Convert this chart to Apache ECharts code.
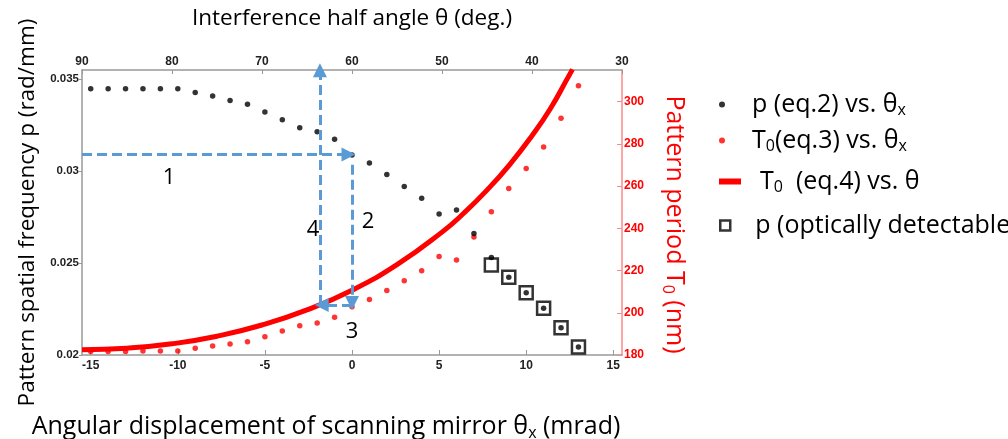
<!DOCTYPE html>
<html><head><meta charset="utf-8">
<script src="https://cdn.jsdelivr.net/npm/echarts@6.0.0/dist/echarts.min.js"></script>
<style>html,body{margin:0;padding:0;background:#fff}#c{width:1008px;height:439px}</style>
</head><body><div id="c"></div>
<script>
// ---- data ----
const thetaX = [-15,-14,-13,-12,-11,-10,-9,-8,-7,-6,-5,-4,-3,-2,-1,0,1,2,3,4,5,6,7,8,9,10,11,12,13];
const pEq2 = [0.03448,0.03448,0.03448,0.03448,0.03448,0.03448,0.03428,0.03409,0.03384,0.03364,0.03321,0.03280,0.03236,0.03214,0.03173,0.03088,0.03044,0.02981,0.02916,0.02852,0.02767,0.02789,0.02661,0.02530,0.02423,0.02338,0.02254,0.02148,0.02043];
const t0Eq3 = [181.6,181.6,181.6,181.9,181.9,181.9,183.2,184.3,185.2,186.3,188.7,191.4,193.8,195.2,197.9,202.9,206.3,210.5,215.2,219.9,226.7,225.0,235.9,247.8,258.9,268.4,278.5,292.2,307.5];
const detectX = [8,9,10,11,12,13];
const pDetect = [0.02489,0.02423,0.02338,0.02254,0.02148,0.02043];
const thetaDeg = [90,85,80,75,70,65,60,55,50,47.5,45,42.5,40,38,36,35.5];
const t0Eq4 = [182.5,183.2,185.3,188.9,194.2,201.4,210.7,222.8,238.2,247.5,258.1,270.1,283.9,296.4,311.5,315.3];
// axis ticks
const bottomTicks = [-15,-10,-5,0,5,10,15];
const leftTicks = [0.02,0.025,0.03,0.035];
const rightTicks = [180,200,220,240,260,280,300];
// annotation arrows (data coordinates: [thetaX, p])
const arrow1 = [[-15.5,0.0309],[-0.2,0.0309]];
const arrow2 = [[0,0.03035],[0,0.02283]];
const arrow3 = [[0,0.02272],[-1.74,0.02272]];
const arrow4 = [[-1.84,0.02272],[-1.84,0.03549]];
const arrowLabels = ['1','2','3','4'];

const S1 = 'p (eq.2) vs. θx', S2 = 'T0 (eq.3) vs. θx', S3 = 'T0 (eq.4) vs. θ', S4 = 'p (optically detectable)';
const FONT = "'Open Sans', sans-serif";
const NUMFONT = "'Liberation Sans', Arial, sans-serif";
const BLUE = '#5B9BD5', RED = '#ff0000';

const legendFmt = {};
legendFmt[S1] = '{g|}{t|p (eq.2) vs. θ}{s|x}';
legendFmt[S2] = '{g|}{t|T}{s|0}{t|(eq.3) vs. θ}{s|x}';
legendFmt[S3] = '{g|}{t|T}{s|0}{t|  (eq.4) vs. θ}';
legendFmt[S4] = '{g|}{t|p (optically detectable)}';
const legendRich = {
  g:{width:14},
  t:{fontSize:25,fontFamily:FONT,color:'#000'},
  s:{fontSize:16,fontFamily:FONT,color:'#000',padding:[12,0,0,0]}
};
function mkLegend(name, top, h, extra){
  return Object.assign({
    left: 714, top: top, orient:'vertical', selectedMode:false,
    itemWidth:22, itemHeight:h, itemGap:0,
    data:[name],
    formatter: n => legendFmt[n],
    textStyle:{rich:legendRich}
  }, extra||{});
}

const chart = echarts.init(document.getElementById('c'));
const arrowLine = (a) => [{coord:a[0]},{coord:a[1]}];
chart.setOption({
  animation:false,
  grid:{left:82,right:386,top:70,bottom:84,outerBoundsMode:'none'},
  legend:[
    mkLegend(S1, 87, 6),
    mkLegend(S2, 123, 6),
    mkLegend(S3, 164, 6, {symbolKeepAspect:false, data:[{name:S3, icon:'rect'}]}),
    mkLegend(S4, 208, 10, {symbolKeepAspect:true, data:[{name:S4, icon:'path://M0,0L10,0L10,10L0,10Z', itemStyle:{color:'#fff',borderColor:'#000',borderWidth:2.5}}]})
  ],
  xAxis:[
    {type:'value', position:'bottom', min:-15.5, max:15.5,
     splitLine:{show:false},
     axisLine:{onZero:false,lineStyle:{color:'#999',width:1.5}},
     axisTick:{inside:true,length:5,customValues:bottomTicks,lineStyle:{color:'#999'}},
     axisLabel:{customValues:bottomTicks,fontFamily:NUMFONT,fontWeight:'bold',fontSize:12,color:'#222',margin:5},
     name:'{t|Angular displacement of scanning mirror θ}{s|x}{t| (mrad)}',
     nameLocation:'middle', nameGap:58,
     nameTextStyle:{padding:[0,52,0,0],rich:{t:{fontSize:25,fontFamily:FONT,color:'#000'},s:{fontSize:16,fontFamily:FONT,color:'#000',padding:[12,0,0,0]}}}
    },
    {type:'value', position:'top', min:30, max:90, interval:10, inverse:true,
     splitLine:{show:false},
     axisLine:{onZero:false,lineStyle:{color:'#999',width:1.5}},
     axisTick:{inside:true,length:4,lineStyle:{color:'#999'}},
     axisLabel:{fontFamily:NUMFONT,fontWeight:'bold',fontSize:12,color:'#222',margin:2},
     name:'Interference half angle θ (deg.)',
     nameLocation:'middle', nameGap:40,
     nameTextStyle:{fontSize:22.5,fontFamily:FONT,color:'#000'}
    }
  ],
  yAxis:[
    {type:'value', position:'left', min:0.02, max:0.0355,
     splitLine:{show:false},
     axisLine:{show:true,onZero:false,lineStyle:{color:'#999',width:1.5}},
     axisTick:{show:true,length:3,customValues:leftTicks,lineStyle:{color:'#999'}},
     axisLabel:{customValues:leftTicks,fontFamily:NUMFONT,fontWeight:'bold',fontSize:11.5,color:'#222',margin:3},
     name:'Pattern spatial frequency p (rad/mm)',
     nameLocation:'middle', nameGap:40,
     nameTextStyle:{fontSize:22.5,fontFamily:FONT,color:'#000'}
    },
    {type:'value', position:'right', min:180, max:315,
     splitLine:{show:false},
     axisLine:{show:true,onZero:false,lineStyle:{color:'#ff8a8a',width:1.5}},
     axisTick:{show:true,inside:true,length:5,customValues:rightTicks,lineStyle:{color:'#ff8a8a'}},
     axisLabel:{customValues:rightTicks,fontFamily:NUMFONT,fontWeight:'bold',fontSize:12,color:RED,margin:2},
     name:'{t|Pattern period T}{s|0}{t| (nm)}',
     nameLocation:'middle', nameGap:38, nameRotate:-90,
     nameTextStyle:{padding:[0,0,0,24],rich:{t:{fontSize:25,fontFamily:FONT,color:RED},s:{fontSize:16,fontFamily:FONT,color:RED,padding:[12,0,0,0]}}}
    }
  ],
  series:[
    {name:S3, type:'line', xAxisIndex:1, yAxisIndex:1, smooth:true, symbol:'none', clip:true,
     lineStyle:{color:RED,width:5}, itemStyle:{color:RED},
     data: thetaDeg.map((t,i)=>[t,t0Eq4[i]])},
    {name:S2, type:'scatter', xAxisIndex:0, yAxisIndex:1, symbol:'circle', symbolSize:5.5,
     itemStyle:{color:RED},
     data: thetaX.map((x,i)=>[x,t0Eq3[i]])},
    {name:S4, type:'scatter', xAxisIndex:0, yAxisIndex:0, symbol:'rect', symbolSize:13,
     itemStyle:{color:'rgba(0,0,0,0)',borderColor:'#000',borderWidth:2.5},
     data: detectX.map((x,i)=>[x,pDetect[i]])},
    {name:S1, type:'scatter', xAxisIndex:0, yAxisIndex:0, symbol:'circle', symbolSize:5.5,
     itemStyle:{color:'#000'},
     data: thetaX.map((x,i)=>[x,pEq2[i]]),
     markLine:{silent:true, symbol:['none','triangle'], symbolSize:14,
       label:{show:false}, emphasis:{disabled:true},
       lineStyle:{color:BLUE,width:3,type:[10,5]},
       data:[arrowLine(arrow1),arrowLine(arrow2),arrowLine(arrow3),arrowLine(arrow4)]}
    }
  ],
  graphic:[
    {type:'text', x:169, y:178, style:{text:arrowLabels[0],font:"22px 'Open Sans'",fill:'#000',align:'center',verticalAlign:'middle'}},
    {type:'text', x:368, y:222, style:{text:arrowLabels[1],font:"22px 'Open Sans'",fill:'#000',align:'center',verticalAlign:'middle'}},
    {type:'text', x:352, y:332, style:{text:arrowLabels[2],font:"22px 'Open Sans'",fill:'#000',align:'center',verticalAlign:'middle'}},
    {type:'text', x:313, y:230, style:{text:arrowLabels[3],font:"22px 'Open Sans'",fill:'#000',align:'center',verticalAlign:'middle'}}
  ]
});
</script></body></html>
